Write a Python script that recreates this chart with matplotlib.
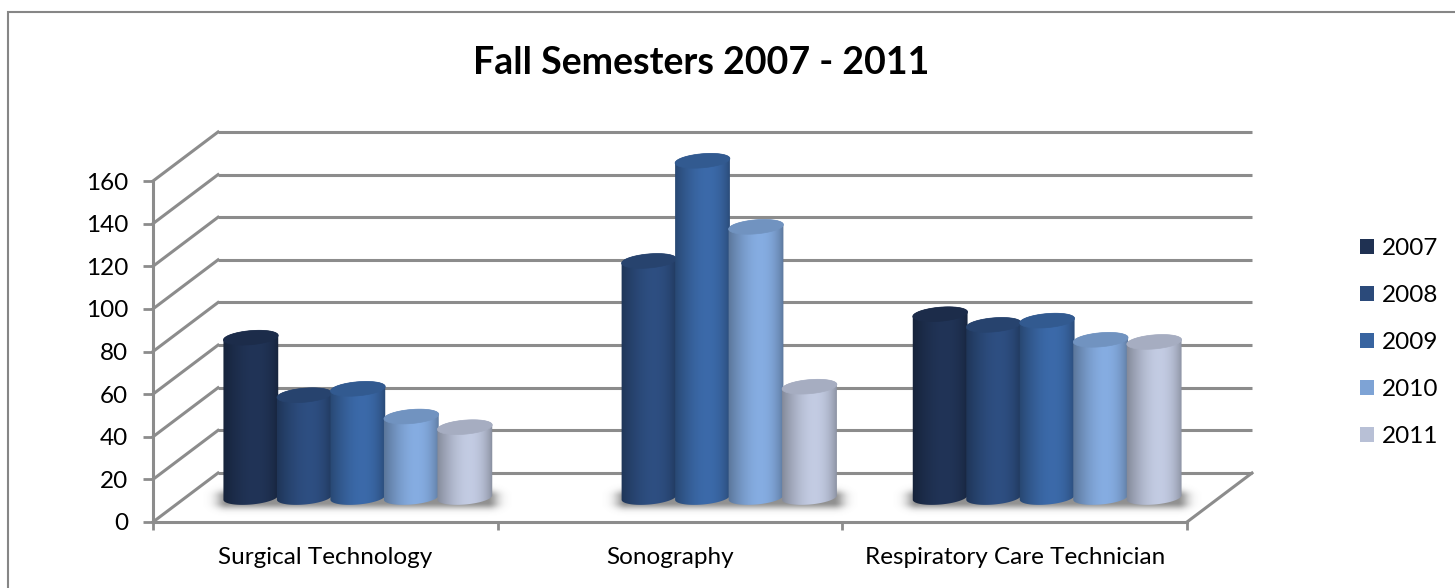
import numpy as np
import matplotlib
matplotlib.use("Agg")
import matplotlib.pyplot as plt
from matplotlib.patches import Polygon, Patch, Rectangle
from matplotlib.colors import to_rgb

categories = ["Surgical Technology", "Sonography", "Respiratory Care Technician"]
years = ["2007", "2008", "2009", "2010", "2011"]
counts_2007 = [75, 0, 86]
counts_2008 = [48, 111, 81]
counts_2009 = [51, 158, 83]
counts_2010 = [38, 127, 74]
counts_2011 = [33, 52, 73]
series = [counts_2007, counts_2008, counts_2009, counts_2010, counts_2011]
colors = ["#1f3152", "#2b4a7a", "#3864a0", "#7ea3d5", "#b8c0d6"]
y_ticks = [0, 20, 40, 60, 80, 100, 120, 140, 160]

plt.rcParams["font.family"] = ["Lato", "DejaVu Sans"]
GRID = "#8c8c8c"
FS = 17.5

W, H = 1455, 588
fig = plt.figure(figsize=(W / 100, H / 100), dpi=100)
ax = fig.add_axes([153 / W, 66 / H, 1034 / W, 341 / H])
ax.set_xlim(0, 3)
ax.set_ylim(0, 160)

# pixels per data unit, used for the oblique depth and cylinder caps
p0 = ax.transData.transform((0, 0))
p1 = ax.transData.transform((1, 1))
sx, sy = p1[0] - p0[0], p1[1] - p0[1]
DX, DY = 65 / sx, 49 / sy

# back wall, left wall and floor edge
for v in y_ticks:
    ax.plot([DX, 3 + DX], [v + DY, v + DY], color=GRID, lw=2.2, clip_on=False, zorder=1,
            solid_capstyle="butt")
    ax.plot([0, DX], [v, v + DY], color=GRID, lw=2.2, clip_on=False, zorder=1)
ax.plot([3, 3 + DX], [0, DY], color=GRID, lw=2.2, clip_on=False, zorder=1)

for side in ["top", "right"]:
    ax.spines[side].set_visible(False)
for side in ["left", "bottom"]:
    ax.spines[side].set_color(GRID)
    ax.spines[side].set_linewidth(2.2)
    ax.spines[side].set_zorder(50)

ax.set_yticks(y_ticks)
ax.tick_params(axis="y", direction="out", length=7, width=2, color=GRID,
               labelsize=FS, pad=11)
ax.set_xticks([0, 1, 2, 3])
ax.set_xticklabels([])
ax.tick_params(axis="x", which="major", direction="out", length=6, width=2, color=GRID)
ax.set_xticks([0.5, 1.5, 2.5], minor=True)
ax.set_xticklabels(categories, minor=True)
ax.tick_params(axis="x", which="minor", length=0, labelsize=FS, pad=18)
ax.set_facecolor("none")

RADIUS_PX = 27.5
CAP_PX = 7
TILT = np.deg2rad(-5)
STEP = 53.5 / sx


def ellipse(cx, cy, t0, t1, n=60):
    t = np.linspace(t0, t1, n)
    ex, ey = RADIUS_PX * np.cos(t), CAP_PX * np.sin(t)
    rx = ex * np.cos(TILT) + ey * np.sin(TILT)
    ry = -ex * np.sin(TILT) + ey * np.cos(TILT)
    return np.column_stack([cx + rx / sx, cy + ry / sy])


def shade(base, n=120):
    t = np.linspace(0, 1, n)
    f = 0.70 + 0.36 * np.sin(np.pi * t ** 1.3) ** 0.7
    rgb = np.clip(np.outer(f, to_rgb(base)), 0, 1)
    return rgb[np.newaxis, :, :]


y_base = DY / 2
z = 10
for ci in range(len(categories)):
    centre = ci + 0.5 + DX / 2
    xs = [centre + (k - 2) * STEP for k in range(len(years))]
    present = [k for k in range(len(years)) if series[k][ci] > 0]

    # soft floor shadow under the group
    left = xs[present[0]] - (RADIUS_PX + 20) / sx
    right = xs[present[-1]] + (RADIUS_PX + 20) / sx
    gx = np.linspace(left, right, 300)
    gy = np.linspace(y_base - 22 / sy, y_base + 14 / sy, 60)
    X, Y = np.meshgrid(gx, gy)
    dx = np.maximum(0, np.maximum(left + 24 / sx - X, X - (right - 24 / sx))) * sx
    dy = np.abs((Y - (y_base - 3 / sy)) * sy)
    dy = np.maximum(0, dy - 3)
    alpha = 0.75 * np.exp(-(dx / 11) ** 2 - (dy / 6) ** 2)
    img = np.zeros((60, 300, 4))
    img[..., :3] = 0.42
    img[..., 3] = alpha
    ax.imshow(img, extent=[left, right, gy[0], gy[-1]], origin="lower",
              aspect="auto", zorder=5, interpolation="bilinear", clip_on=False)

    for k in present:
        value = series[k][ci]
        cx = xs[k]
        top = y_base + value
        outline = np.vstack([ellipse(cx, y_base, np.pi, 2 * np.pi),
                             ellipse(cx, top, 0, np.pi)])
        body = Polygon(outline, closed=True, facecolor="none", edgecolor="none")
        ax.add_patch(body)
        im = ax.imshow(shade(colors[k]),
                       extent=[cx - (RADIUS_PX + 1) / sx, cx + (RADIUS_PX + 1) / sx,
                               y_base - 12 / sy, top + 12 / sy],
                       origin="lower", aspect="auto", zorder=z, interpolation="bilinear")
        im.set_clip_path(body)
        im.set_clip_box(fig.bbox)
        cap_rgb = np.clip(np.array(to_rgb(colors[k])) * 0.9, 0, 1)
        cap = Polygon(ellipse(cx, top, 0, 2 * np.pi), closed=True, facecolor=cap_rgb,
                      edgecolor=cap_rgb, lw=0.5, zorder=z + 1, clip_on=False)
        ax.add_patch(cap)
        z += 2

ax.set_xlim(0, 3)
ax.set_ylim(0, 160)

fig.text(701 / W, 1 - 63 / H, "Fall Semesters 2007 - 2011", ha="center", va="center",
         fontsize=27, fontweight="bold")

handles = [Patch(facecolor=c, edgecolor="none") for c in colors]
fig.legend(handles, years, loc="upper left", bbox_to_anchor=(1360 / W, 1 - 238 / H),
           frameon=False, fontsize=FS, handlelength=0.58, handleheight=0.58,
           handletextpad=0.3, labelspacing=1.07, borderaxespad=0, borderpad=0)

# chart frame
fig.patches.append(Rectangle((8 / W, -0.05), 1.1, 1 - 12 / H + 0.05, transform=fig.transFigure,
                             fill=False, edgecolor="#868686", lw=1.5))

fig.savefig("out.png", dpi=100)
